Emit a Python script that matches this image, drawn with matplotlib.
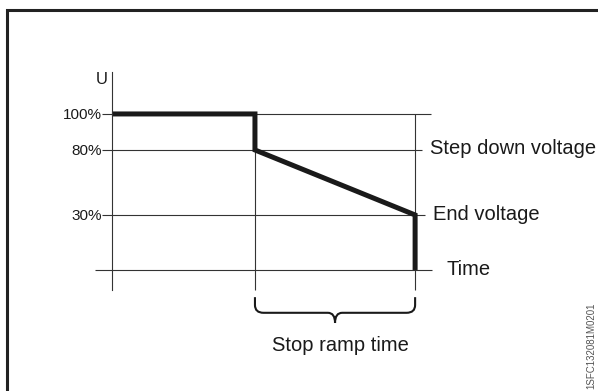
import numpy as np
import matplotlib
matplotlib.use("Agg")
import matplotlib.pyplot as plt
from matplotlib.path import Path
from matplotlib.patches import PathPatch, Rectangle
from matplotlib import transforms

plt.rcParams['font.family'] = ['Liberation Sans', 'DejaVu Sans']

# 전압 프로파일 (시간, 전압%)
t_stop = 1.0      # 정지 램프 시작
t_end = 2.12      # 정지 램프 끝
time_pts = [0, t_stop, t_stop, t_end, t_end]
volt_pts = [100, 100, 80, 30, 0]

tick_levels = [100, 80, 30]
tick_labels = ['100%', '80%', '30%']

ink = '#1a1a1a'
thin = '#333333'

# 도식용 비선형 세로축 (레벨 -> 화면상 거리)
lv = np.array([-200, 0, 30, 80, 100, 300])
ps = np.array([-366.7, 0, 55, 120, 156, 516])
fwd = lambda v: np.interp(v, lv, ps)
inv = lambda p: np.interp(p, ps, lv)

fig = plt.figure(figsize=(5.98, 3.91), dpi=100)
ax = fig.add_axes([0, 0, 1, 1])
ax.set_yscale('function', functions=(fwd, inv))
ax.set_xlim(-0.783, 3.399)
ax.set_ylim(-66, 163.3)
ax.patch.set_alpha(0)

for s in ['top', 'right', 'bottom']:
    ax.spines[s].set_visible(False)
ax.spines['left'].set_position(('data', 0))
ax.spines['left'].set_bounds(-11, 123.3)
ax.spines['left'].set_color(thin)
ax.spines['left'].set_linewidth(0.8)
ax.set_xticks([])
ax.set_yticks(tick_levels)
ax.set_yticklabels(tick_labels)
ax.tick_params(axis='y', direction='out', length=7, width=0.8, color=thin,
               pad=0.5, labelsize=11, labelcolor=ink)

# 가로 보조선 + 시간축
ax.hlines(100, 0, 2.234, color=thin, lw=0.8)
ax.hlines(80, 0, 2.17, color=thin, lw=0.8)
ax.hlines(30, 0, 2.19, color=thin, lw=0.8)
ax.hlines(0, -0.12, 2.24, color=thin, lw=0.8)
# 세로 보조선
ax.vlines([t_stop, t_end], -11, 100, color=thin, lw=0.8)

# 전압 곡선
ax.plot(time_pts, volt_pts, color=ink, lw=3.6, solid_joinstyle='miter',
        solid_capstyle='butt')

ax.text(-0.03, 119, 'U', ha='right', va='center', fontsize=12, color=ink)
ax.text(2.224, 81, 'Step down voltage', ha='left', va='center', fontsize=14.5, color=ink)
ax.text(2.245, 30, 'End voltage', ha='left', va='center', fontsize=14.5, color=ink)
ax.text(2.343, 0, 'Time', ha='left', va='center', fontsize=14.5, color=ink)

# 중괄호
tr = transforms.blended_transform_factory(ax.transData, ax.transAxes)
x0, x1 = t_stop, t_end
xm = (x0 + x1) / 2
r = 0.06
yt, yb, yp = 0.240, 0.200, 0.174
verts = [(x0, yt), (x0, yb + 0.02), (x0, yb), (x0 + r, yb),
         (xm - 0.05, yb), (xm, yb), (xm, yp),
         (xm, yb), (xm + 0.05, yb),
         (x1 - r, yb), (x1, yb), (x1, yb + 0.02), (x1, yt)]
codes = [Path.MOVETO, Path.LINETO, Path.CURVE3, Path.CURVE3,
         Path.LINETO, Path.CURVE3, Path.CURVE3,
         Path.CURVE3, Path.CURVE3,
         Path.LINETO, Path.CURVE3, Path.CURVE3, Path.LINETO]
ax.add_patch(PathPatch(Path(verts, codes), transform=tr, fill=False,
                       edgecolor=ink, lw=1.5, clip_on=False))
ax.text(1.60, 0.1176, 'Stop ramp time', transform=tr, ha='center', va='center',
        fontsize=14.5, color=ink)

# 테두리
fig.patches.append(Rectangle((0.0125, -0.2), 1.2, 0.9744 + 0.2,
                             transform=fig.transFigure, fill=False,
                             edgecolor='#222222', lw=2.2))
fig.text(0.9885, 0.004, '1SFC132081M0201', rotation=90, ha='center', va='bottom',
         fontsize=7, color='#555555')

fig.savefig('out.png', dpi=100)
